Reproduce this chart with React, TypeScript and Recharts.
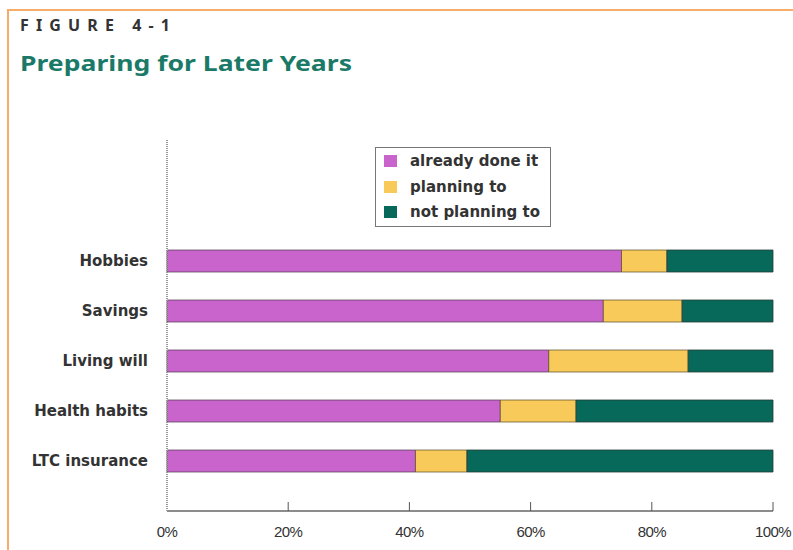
import React from 'react';
import { BarChart, Bar, XAxis, YAxis } from 'recharts';

const categories = ['Hobbies', 'Savings', 'Living will', 'Health habits', 'LTC insurance'];
const alreadyDone = [75, 72, 63, 55, 41];
const planning = [7.5, 13, 23, 12.5, 8.5];
const notPlanning = [17.5, 15, 14, 32.5, 50.5];
const xTicks = [0, 20, 40, 60, 80, 100];

const seriesNames = ['already done it', 'planning to', 'not planning to'];
const seriesColors = ['#c864cc', '#f8ca5a', '#07695a'];

const data = categories.map((c, i) => ({
  name: c,
  done: alreadyDone[i],
  planning: planning[i],
  not: notPlanning[i],
}));

const FONT = '"Noto Sans", "Open Sans", sans-serif';
const LABEL_FONT = '"DejaVu Sans", "Noto Sans", sans-serif';

const XTick = (props: any) => {
  const { x, y, payload } = props;
  return (
    <g>
      {payload.value !== 0 && (
        <line x1={x} x2={x} y1={y} y2={y - 9} stroke="#555" strokeWidth={1} />
      )}
      <text
        x={x}
        y={y + 26}
        textAnchor="middle"
        fontFamily='"Liberation Sans", Arial, sans-serif'
        fontSize={15}
        fill="#333"
        letterSpacing={-0.6}
      >
        {payload.value + '%'}
      </text>
    </g>
  );
};

export default function App() {
  return (
    <div
      style={{
        position: 'absolute',
        left: 0,
        top: 0,
        width: 793,
        height: 550,
        background: '#fff',
        overflow: 'hidden',
      }}
    >
      {/* orange frame */}
      <div
        style={{
          position: 'absolute',
          left: 7,
          top: 9,
          width: 800,
          height: 600,
          borderTop: '2px solid #f7ad6a',
          borderLeft: '2px solid #f7ad6a',
        }}
      />
      <svg
        width={793}
        height={100}
        style={{ position: 'absolute', left: 0, top: 0 }}
      >
        <text
          x={20}
          y={31}
          fontFamily={FONT}
          fontWeight={700}
          fontSize={16}
          fill="#333"
          textLength={150}
          lengthAdjust="spacing"
        >
          FIGURE 4-1
        </text>
        <text
          x={20}
          y={71}
          fontFamily={FONT}
          fontWeight={700}
          fontSize={22}
          fill="#1b7a67"
          textLength={332}
          lengthAdjust="spacingAndGlyphs"
        >
          Preparing for Later Years
        </text>
      </svg>

      <div style={{ position: 'absolute', left: 0, top: 0 }}>
        <BarChart
          width={793}
          height={550}
          data={data}
          layout="vertical"
          margin={{ top: 140, right: 20, bottom: 0, left: 0 }}
          barSize={22}
        >
          <XAxis
            type="number"
            domain={[0, 100]}
            ticks={xTicks}
            interval={0}
            height={39}
            tickSize={0}
            tickMargin={0}
            tickLine={false}
            axisLine={{ stroke: '#666', strokeWidth: 1.5 }}
            tick={<XTick />}
          />
          <YAxis
            type="category"
            dataKey="name"
            width={167}
            tickSize={0}
            tickMargin={19}
            tickLine={false}
            padding={{ top: 96, bottom: 25 }}
            axisLine={{ stroke: '#999', strokeWidth: 2, strokeDasharray: '1 1' }}
            tick={{ fontFamily: LABEL_FONT, fontWeight: 700, fontSize: 15, fill: '#333' }}
          />
          <Bar
            dataKey="done"
            stackId="a"
            name={seriesNames[0]}
            fill={seriesColors[0]}
            stroke="#4a3a4a"
            strokeOpacity={0.7}
            strokeWidth={1}
            isAnimationActive={false}
          />
          <Bar
            dataKey="planning"
            stackId="a"
            name={seriesNames[1]}
            fill={seriesColors[1]}
            stroke="#5a4a2a"
            strokeOpacity={0.7}
            strokeWidth={1}
            isAnimationActive={false}
          />
          <Bar
            dataKey="not"
            stackId="a"
            name={seriesNames[2]}
            fill={seriesColors[2]}
            stroke="#2a3a34"
            strokeOpacity={0.8}
            strokeWidth={1}
            isAnimationActive={false}
          />
        </BarChart>
      </div>

      {/* legend */}
      <div
        style={{
          position: 'absolute',
          left: 375,
          top: 147,
          width: 176,
          height: 80,
          border: '1px solid #777',
          boxSizing: 'border-box',
          fontFamily: LABEL_FONT,
          fontWeight: 700,
          fontSize: 15,
          color: '#333',
        }}
      >
        {seriesNames.map((n, i) => (
          <div
            key={n}
            style={{
              position: 'absolute',
              left: 8,
              top: 3 + i * 25.5,
              height: 20,
              display: 'flex',
              alignItems: 'center',
              whiteSpace: 'nowrap',
            }}
          >
            <span
              style={{
                display: 'inline-block',
                width: 13,
                height: 12,
                background: seriesColors[i],
                marginRight: 13,
              }}
            />
            <span>{n}</span>
          </div>
        ))}
      </div>
    </div>
  );
}
